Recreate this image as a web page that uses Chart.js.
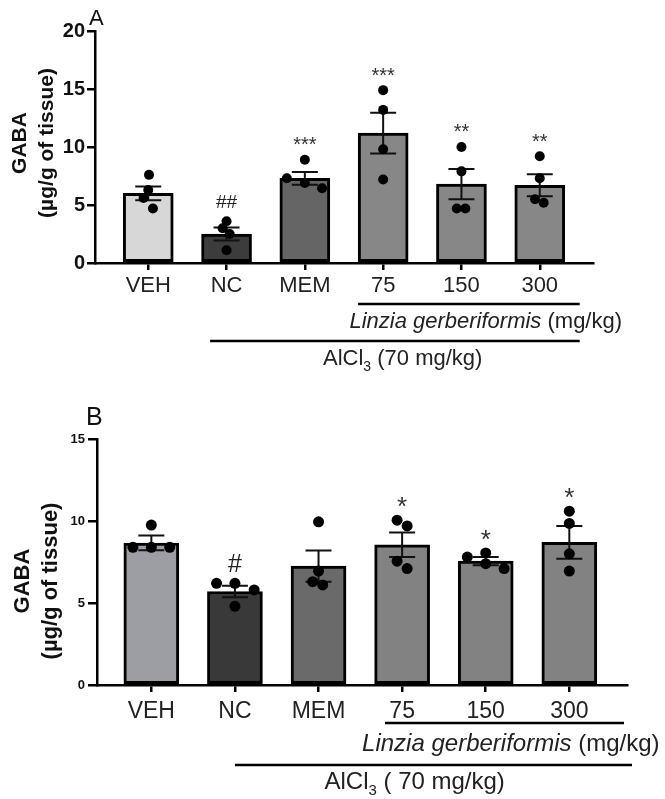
<!DOCTYPE html>
<html>
<head>
<meta charset="utf-8">
<script src="https://cdn.jsdelivr.net/npm/chart.js@4.4.1/dist/chart.umd.min.js"></script>
<style>
  body { margin: 0; background: #fff; }
  #wrap { position: relative; width: 665px; height: 799px; }
  canvas { position: absolute; left: 0; }
</style>
</head>
<body>
<div id="wrap">
  <canvas id="cA" width="665" height="390" style="top:0"></canvas>
  <canvas id="cB" width="665" height="409" style="top:390px"></canvas>
</div>
<script>
// groups on the x axis
const categories = ["VEH", "NC", "MEM", "75", "150", "300"];

// panel A
const meanA = [6.0, 2.5, 7.3, 11.2, 6.8, 6.7];
const semA = [0.6, 0.55, 0.55, 1.75, 1.3, 0.95];
const pointsA = [
  [7.6, 6.3, 5.6, 4.7],
  [3.6, 3.0, 2.5, 1.1],
  [8.9, 7.3, 6.9, 6.45],
  [14.9, 13.2, 9.8, 7.2],
  [10.0, 7.9, 4.7, 4.7],
  [9.2, 7.3, 5.5, 5.2],
];
const jitterA = [
  [0.01, 0, -0.06, 0.06],
  [0, -0.05, 0.04, 0],
  [0, -0.23, 0, 0.22],
  [0, 0, 0, 0],
  [0, 0, -0.06, 0.05],
  [0, 0, -0.06, 0.05],
];
const sigA = ["", "##", "***", "***", "**", "**"];
const yTicksA = [0, 5, 10, 15, 20];

// panel B
const meanB = [8.66, 5.7, 7.25, 8.55, 7.55, 8.7];
const semB = [0.45, 0.35, 0.95, 0.75, 0.25, 1.0];
const pointsB = [
  [9.75, 8.4, 8.4, 8.4],
  [6.2, 6.2, 5.8, 4.8],
  [9.95, 6.95, 6.3, 6.1],
  [10.05, 9.7, 7.55, 7.1],
  [7.8, 8.05, 7.4, 7.1],
  [10.6, 9.85, 8.0, 6.95],
];
const jitterB = [
  [0, -0.22, 0, 0.22],
  [-0.22, 0, 0.23, 0],
  [0, 0, -0.07, 0.05],
  [-0.06, 0.06, -0.06, 0.06],
  [-0.22, 0, 0, 0.22],
  [0, 0, 0, 0],
];
const sigB = ["", "#", "", "*", "*", "*"];
const yTicksB = [0, 5, 10, 15];

const FONT = "'Liberation Sans', Arial, sans-serif";

// text with a subscript part: [text, isSub]
function drawParts(ctx, parts, cx, baseline, size, italicFirst) {
  let total = 0;
  const fonts = parts.map((p, k) => {
    const s = p[1] ? Math.round(size * 0.62) : size;
    const st = italicFirst && k === 0 ? "italic " : "";
    return st + s + "px " + FONT;
  });
  parts.forEach((p, k) => { ctx.font = fonts[k]; total += ctx.measureText(p[0]).width; });
  let xx = cx - total / 2;
  ctx.textAlign = "left";
  ctx.textBaseline = "alphabetic";
  parts.forEach((p, k) => {
    ctx.font = fonts[k];
    ctx.fillText(p[0], xx, baseline + (p[1] ? size * 0.28 : 0));
    xx += ctx.measureText(p[0]).width;
  });
}

function makeDecor(cfg) {
  return {
    id: "decor",
    afterDatasetDraw(chart, args) {
      if (args.index !== 0) return;
      const { ctx, scales: { x, y } } = chart;
      ctx.save();
      ctx.strokeStyle = "#111";
      ctx.lineWidth = 2;
      cfg.mean.forEach((m, i) => {
        const px = x.getPixelForValue(i);
        const hi = y.getPixelForValue(m + cfg.sem[i]);
        const lo = y.getPixelForValue(m - cfg.sem[i]);
        ctx.beginPath();
        ctx.moveTo(px, lo); ctx.lineTo(px, hi);
        ctx.moveTo(px - cfg.cap, hi); ctx.lineTo(px + cfg.cap, hi);
        ctx.moveTo(px - cfg.cap, lo); ctx.lineTo(px + cfg.cap, lo);
        ctx.stroke();
      });
      ctx.restore();
    },
    afterDraw(chart) {
      const { ctx, chartArea, scales: { x, y } } = chart;
      ctx.save();
      ctx.fillStyle = "#222";

      // significance marks above the highest dot
      cfg.sig.forEach((s, i) => {
        if (!s) return;
        const top = y.getPixelForValue(Math.max(...cfg.points[i]));
        const cy = top - cfg.sigGap;
        const star = s[0] === "*";
        const size = star ? cfg.starSize : cfg.hashSize;
        ctx.font = size + "px " + FONT;
        ctx.textAlign = "center";
        ctx.textBaseline = "alphabetic";
        ctx.fillStyle = star ? "#333" : "#222";
        ctx.fillText(s, x.getPixelForValue(i), cy + size * (star ? 0.57 : 0.36));
      });

      // y axis title
      ctx.fillStyle = "#111";
      ctx.save();
      ctx.translate(cfg.titleX[0], cfg.titleY);
      ctx.rotate(-Math.PI / 2);
      ctx.font = "bold " + cfg.titleSize + "px " + FONT;
      ctx.textAlign = "center";
      ctx.textBaseline = "middle";
      ctx.fillText("GABA", 0, 0);
      ctx.fillText("(\u00b5g/g of tissue)", 0, cfg.titleX[1] - cfg.titleX[0]);
      ctx.restore();

      // panel letter
      ctx.font = cfg.letterSize + "px " + FONT;
      ctx.textAlign = "left";
      ctx.textBaseline = "alphabetic";
      ctx.fillText(cfg.letter, cfg.letterPos[0], cfg.letterPos[1]);

      // group lines under the axis
      const b = chartArea.bottom;
      ctx.strokeStyle = "#000";
      ctx.lineWidth = 2.5;
      ctx.beginPath();
      ctx.moveTo(x.getPixelForValue(cfg.doseSpan[0]), b + cfg.doseLineY);
      ctx.lineTo(x.getPixelForValue(cfg.doseSpan[1]), b + cfg.doseLineY);
      ctx.moveTo(x.getPixelForValue(cfg.alSpan[0]), b + cfg.alLineY);
      ctx.lineTo(x.getPixelForValue(cfg.alSpan[1]), b + cfg.alLineY);
      ctx.stroke();

      ctx.fillStyle = "#222";
      const fs = cfg.noteSize;
      drawParts(ctx, [["Linzia gerberiformis", false], [" (mg/kg)", false]],
        x.getPixelForValue(cfg.doseTextX), b + cfg.doseTextY + fs * 0.36, fs, true);
      drawParts(ctx, [["AlCl", false], ["3", true], [cfg.alText, false]],
        x.getPixelForValue(cfg.alTextX), b + cfg.alTextY + fs * 0.36, fs, false);
      ctx.restore();
    },
  };
}

function makePanel(id, cfg) {
  const bars = cfg.mean.map((m, i) => ({ x: i, y: m }));
  const dots = [];
  cfg.points.forEach((grp, i) => grp.forEach((v, k) => dots.push({ x: i + cfg.jitter[i][k], y: v })));

  return new Chart(document.getElementById(id), {
    type: "bar",
    data: {
      datasets: [
        {
          type: "bar",
          data: bars,
          backgroundColor: cfg.colors,
          borderColor: "#000",
          borderWidth: 3,
          borderSkipped: false,
          barThickness: cfg.barWidth,
          order: 2,
        },
        {
          type: "scatter",
          data: dots,
          pointRadius: cfg.dotRadius,
          pointBackgroundColor: "#000",
          pointBorderWidth: 0,
          order: 1,
        },
      ],
    },
    options: {
      responsive: false,
      animation: false,
      layout: { padding: { top: cfg.padTop, right: cfg.padRight, left: 0, bottom: 0 } },
      plugins: { legend: { display: false }, tooltip: { enabled: false } },
      scales: {
        x: {
          type: "linear",
          min: cfg.xRange[0],
          max: cfg.xRange[1],
          offset: false,
          afterBuildTicks: (s) => { s.ticks = categories.map((c, i) => ({ value: i })); },
          afterFit: (s) => { s.height = cfg.xAxisHeight; },
          ticks: {
            autoSkip: false,
            maxRotation: 0,
            callback: (v) => categories[v],
            color: "#222",
            padding: cfg.xLabelPad,
            font: { family: FONT, size: cfg.xLabelSize },
          },
          grid: { offset: false, drawOnChartArea: false, tickLength: 7, color: "#000", lineWidth: 2.5 },
          border: { color: "#000", width: 2.5 },
        },
        y: {
          min: 0,
          max: cfg.yTicks[cfg.yTicks.length - 1],
          afterBuildTicks: (s) => { s.ticks = cfg.yTicks.map((v) => ({ value: v })); },
          afterFit: (s) => { s.width = cfg.yAxisWidth; },
          ticks: {
            color: "#111",
            padding: cfg.yLabelPad,
            font: { family: FONT, size: cfg.yLabelSize, weight: "bold" },
          },
          grid: { drawOnChartArea: false, tickLength: cfg.yTickLen, color: "#000", lineWidth: 2.5 },
          border: { color: "#000", width: 2.5 },
        },
      },
    },
    plugins: [makeDecor(cfg)],
  });
}

makePanel("cA", {
  mean: meanA, sem: semA, points: pointsA, jitter: jitterA, sig: sigA, yTicks: yTicksA,
  colors: ["#d7d7d7", "#3c3c3c", "#656565", "#878787", "#878787", "#878787"],
  xRange: [-0.68, 5.68], padTop: 31, padRight: 72, xAxisHeight: 127, yAxisWidth: 95,
  barWidth: 50, dotRadius: 5, cap: 13,
  xLabelSize: 22, xLabelPad: 3, yLabelSize: 20, yLabelPad: 2, yTickLen: 8,
  sigGap: 20, starSize: 20, hashSize: 19,
  titleX: [20, 47], titleY: 143, titleSize: 21,
  letter: "A", letterPos: [89, 25], letterSize: 22,
  doseSpan: [2.68, 5.51], alSpan: [0.79, 5.51], doseLineY: 41, alLineY: 78,
  doseTextX: 4.31, doseTextY: 57, alTextX: 3.25, alTextY: 94, noteSize: 22,
  alText: " (70 mg/kg)",
});

makePanel("cB", {
  mean: meanB, sem: semB, points: pointsB, jitter: jitterB, sig: sigB, yTicks: yTicksB,
  colors: ["#9d9ea3", "#393939", "#6a6a6a", "#828282", "#828282", "#828282"],
  xRange: [-0.65, 5.69], padTop: 49, padRight: 38, xAxisHeight: 114, yAxisWidth: 97,
  barWidth: 55, dotRadius: 5.5, cap: 13,
  xLabelSize: 23, xLabelPad: 6, yLabelSize: 13, yLabelPad: 3, yTickLen: 9,
  sigGap: 20, starSize: 26, hashSize: 25,
  titleX: [23, 51], titleY: 191, titleSize: 22,
  letter: "B", letterPos: [86, 35], letterSize: 25,
  doseSpan: [2.795, 5.654], alSpan: [1.0, 5.75], doseLineY: 38, alLineY: 80,
  doseTextX: 4.30, doseTextY: 57, alTextX: 3.15, alTextY: 95, noteSize: 24,
  alText: " ( 70 mg/kg)",
});
</script>
</body>
</html>
